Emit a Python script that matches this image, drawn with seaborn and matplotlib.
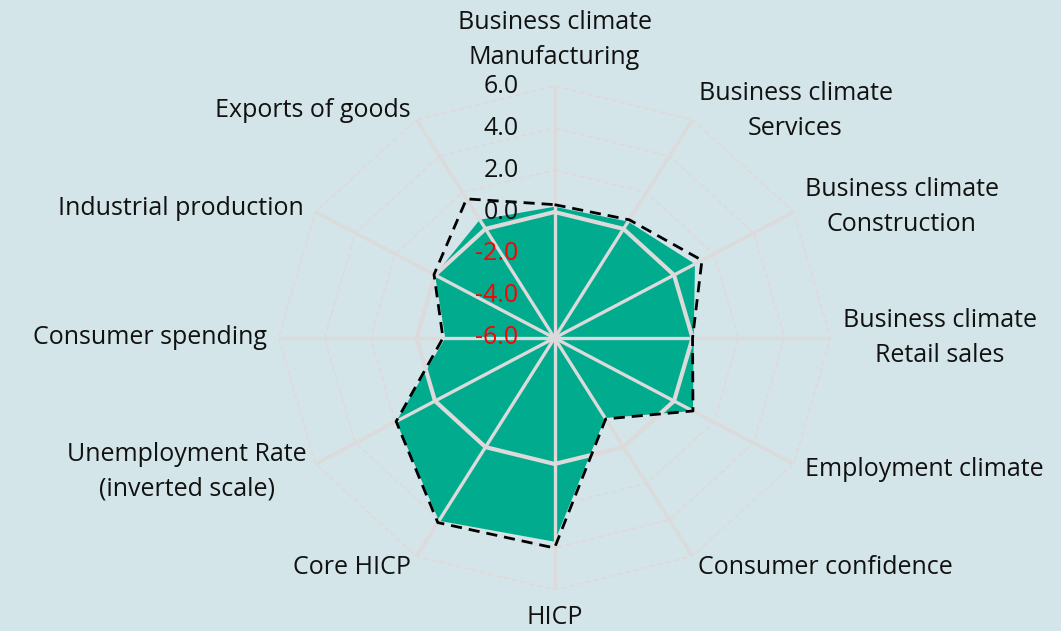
import numpy as np
import matplotlib
matplotlib.use("Agg")
import matplotlib.pyplot as plt
import seaborn as sns

# categories clockwise from the top
categories = ["Business climate\nManufacturing", "Business climate\nServices",
              "Business climate\nConstruction", "Business climate\nRetail sales",
              "Employment climate", "Consumer confidence", "HICP", "Core HICP",
              "Unemployment Rate\n(inverted scale)", "Consumer spending",
              "Industrial production", "Exports of goods"]
current = [0.25, 0.40, 1.05, 0.05, 0.95, -1.6, 3.7, 4.05, 1.95, -1.25, 0.0, 0.5]
previous = [0.35, 0.5, 1.4, 0.0, 0.95, -1.55, 4.0, 4.15, 1.95, -1.15, 0.05, 1.65]
ring_levels = [-6, -4, -2, 0, 2, 4, 6]
tick_labels = ["-6.0", "-4.0", "-2.0", "0.0", "2.0", "4.0", "6.0"]

# label placement: (dx, dy) in pixels from outer vertex, horizontal alignment
label_layout = [(0, 46, "center"), (6, 9, "left"), (11, 5, "left"), (12, 0, "left"),
                (11, -6, "left"), (5, -11, "left"), (0, -28, "center"), (-6, -11, "right"),
                (-9, -8, "right"), (-12, 0, "right"), (-12, 4, "right"), (-6, 9, "right")]

bg = "#D3E5E9"
fill_col = "#00AB8E"
grid_col = "#DCDADA"
fs = 18

sns.set_style("white")
plt.rcParams["font.family"] = ["Open Sans", "DejaVu Sans"]

fig = plt.figure(figsize=(10.61, 6.31), dpi=100)
fig.patch.set_facecolor(bg)
ax = fig.add_axes([0.2625, 0.065, 0.5203, 0.7987], projection="polar")
ax.set_facecolor(bg)
ax.set_aspect("auto")
ax.set_theta_zero_location("N")
ax.set_theta_direction(-1)

n = len(categories)
theta = np.linspace(0, 2 * np.pi, n, endpoint=False)
theta_c = np.append(theta, theta[0] + 2 * np.pi)
cur_c = np.append(current, current[0])
prev_c = np.append(previous, previous[0])

# thin dashed rings
for r in ring_levels[1:]:
    if r == 0:
        continue
    ax.plot(theta_c, [r] * (n + 1), color="#E2D7D8", lw=1.0, ls=(0, (4, 2)), zorder=1)

ax.fill(theta_c, cur_c, color=fill_col, lw=0, zorder=2)

# spokes and zero ring on top of the fill
for t in theta:
    ax.plot([t, t], [ring_levels[0], ring_levels[-1]], color=grid_col, lw=2.4, zorder=3,
            solid_capstyle="butt")
ax.plot(theta_c, [0] * (n + 1), color=grid_col, lw=3, zorder=3)

sns.lineplot(x=theta_c, y=prev_c, sort=False, estimator=None, color="black", lw=2,
             linestyle=(0, (4, 2.5)), zorder=4, ax=ax)

ax.set_ylim(ring_levels[0], ring_levels[-1])
ax.grid(False)
ax.set_xticks([])
ax.set_yticks([])
ax.set_xlabel("")
ax.set_ylabel("")
ax.spines["polar"].set_visible(False)

for r, lab in zip(ring_levels, tick_labels):
    ax.annotate(lab, xy=(0, r), xytext=(-36, 0), textcoords="offset pixels",
                ha="right", va="center", fontsize=fs,
                color="#FF0000" if r < 0 else "#111111", zorder=5)

for t, lab, (dx, dy, ha) in zip(theta, categories, label_layout):
    ax.annotate(lab, xy=(t, ring_levels[-1]), xytext=(dx, dy), textcoords="offset pixels",
                ha=ha, va="center", multialignment="center", fontsize=fs,
                linespacing=1.5, color="#111111", annotation_clip=False)

fig.savefig("out.png", dpi=100, facecolor=bg)
